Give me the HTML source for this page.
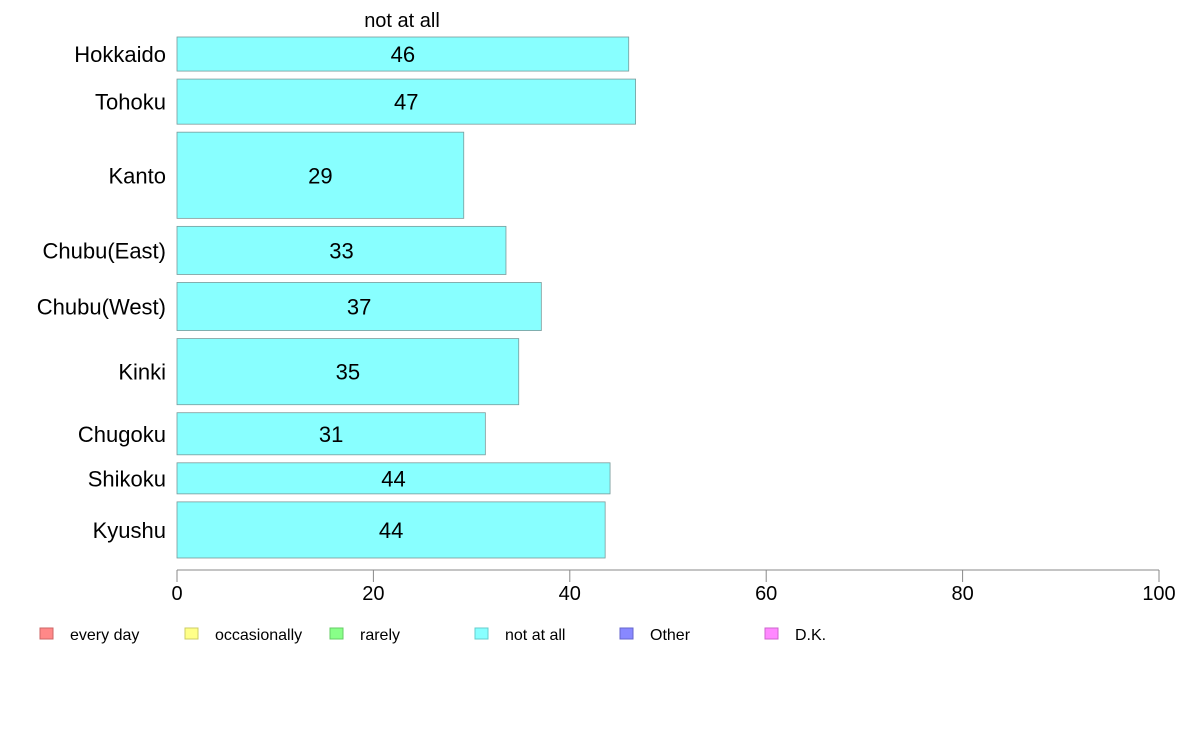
<!DOCTYPE html>
<html><head><meta charset="utf-8"><style>
body{margin:0;background:#fff;font-family:"Liberation Sans",Arial,sans-serif}
svg{display:block}
</style></head><body>
<svg id="chart" width="1188" height="736"></svg>
<script>
const categories=["Hokkaido","Tohoku","Kanto","Chubu(East)","Chubu(West)","Kinki","Chugoku","Shikoku","Kyushu"];
const values=[46.0,46.7,29.2,33.5,37.1,34.8,31.4,44.1,43.6];
const labels=["46","47","29","33","37","35","31","44","44"];
const weights=[34,45,86,48,48,66,42,31,56];
const ticks=[0,20,40,60,80,100];
const legendItems=["every day","occasionally","rarely","not at all","Other","D.K."];
const legendColors=["#ff8888","#ffff88","#88ff88","#88ffff","#8888ff","#ff88ff"];
const legendBorders=["#cc6666","#cccc66","#66cc66","#66cccc","#6666cc","#cc66cc"];

const svg=document.getElementById('chart');
const NS="http://www.w3.org/2000/svg";
const x0=177,x1=1159,yTop=37,yBot=558,gap=8;
const xs=v=>x0+(x1-x0)*v/100;
const totalW=weights.reduce((a,b)=>a+b,0);
const unit=(yBot-yTop-gap*(weights.length-1))/totalW;
function mk(tag,attrs,text){const e=document.createElementNS(NS,tag);for(const k in attrs)e.setAttribute(k,attrs[k]);if(text!==undefined)e.textContent=text;svg.appendChild(e);return e;}

let t=mk('text',{x:402,y:27,'font-size':20,'text-anchor':'middle',fill:'#000'},"not at all");



let y=yTop;
categories.forEach((c,i)=>{
  const h=weights[i]*unit;
  const r=mk('rect',{x:x0,y:y,width:xs(values[i])-x0,height:h,fill:'#88ffff',stroke:'#7a9a9a','stroke-width':0.8});
  
  
  const l=mk('text',{x:(x0+xs(values[i]))/2,y:y+h/2+8,'font-size':22,'text-anchor':'middle',fill:'#000'},labels[i]);
  
  
  const cl=mk('text',{x:166,y:y+h/2+8,'font-size':22,'text-anchor':'end',fill:'#000'},c);
  
  
  y+=h+gap;
});

const ax=mk('line',{x1:x0,x2:x1,y1:570,y2:570,stroke:'#888','stroke-width':1});


ticks.forEach(v=>{
  const tk=mk('line',{x1:xs(v),x2:xs(v),y1:570,y2:582,stroke:'#888','stroke-width':1});
  
  
  const tl=mk('text',{x:xs(v),y:600,'font-size':20,'text-anchor':'middle',fill:'#000'},String(v));
  
  
});

legendItems.forEach((n,i)=>{
  const lx=40+i*145;
  const s=mk('rect',{x:lx,y:628,width:13,height:11,fill:legendColors[i],stroke:legendBorders[i],'stroke-width':1});
  
  
  const lt=mk('text',{x:lx+30,y:640,'font-size':16,fill:'#000'},n);
  
  
});
</script>
</body></html>
